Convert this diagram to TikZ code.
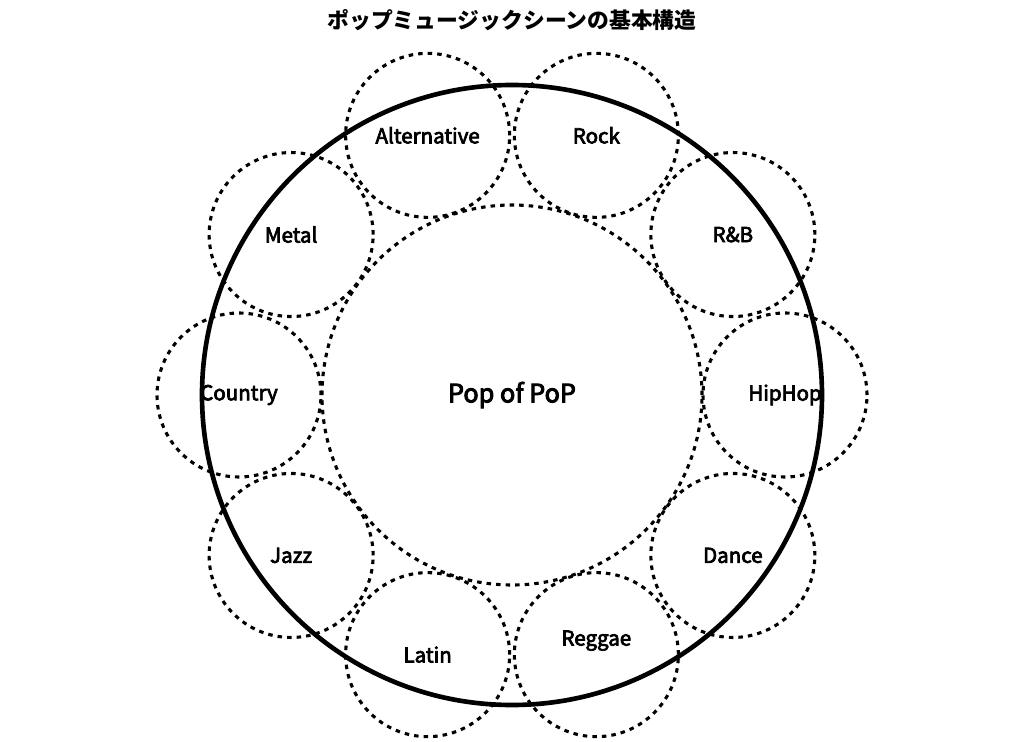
\documentclass[tikz,border=0pt]{standalone}
\usepackage{fontspec}
\setmainfont{Noto Sans CJK JP}
\newfontfamily\genrefont{Noto Sans CJK JP}[FakeBold=3.5]
\usepackage{tikz}
\usetikzlibrary{calc}

\tikzset{
  genre/.style={circle,draw,line width=2.2pt,dash pattern=on 3.2pt off 3.6pt,minimum size=4.1cm,inner sep=0pt},
  glabel/.style={font=\genrefont\fontsize{14.6}{16}\selectfont},
}

\begin{document}
\begin{tikzpicture}
\useasboundingbox (-12.8,-8.65) rectangle (12.8,9.875);
\node[font=\bfseries\fontsize{15.5}{18}\selectfont] (title) at (0,9.375) {ポップミュージックシーンの基本構造};
\draw[line width=3.3pt] (0,0) circle (7.75);
\node[genre,minimum size=9.5cm] (pop) at (0,0) {};
\node[font=\genrefont\fontsize{18}{20}\selectfont] (pop-text) at (pop) {Pop of PoP};
\foreach \a/\g/\n/\dy in {0/HipHop/hiphop/0, 36/R\&B/rnb/0, 72/Rock/rock/0,
  108/Alternative/alt/0, 144/Metal/metal/0, 180/Country/country/0,
  216/Jazz/jazz/0, 252/Latin/latin/0, 288/Reggae/reggae/0.35, 324/Dance/dance/0}
{
\node[genre] (\n) at (\a:6.825) {};
\node[glabel] (\n-text) at ($(\n)+(0,\dy)$) {\g};
}
\end{tikzpicture}
\end{document}
